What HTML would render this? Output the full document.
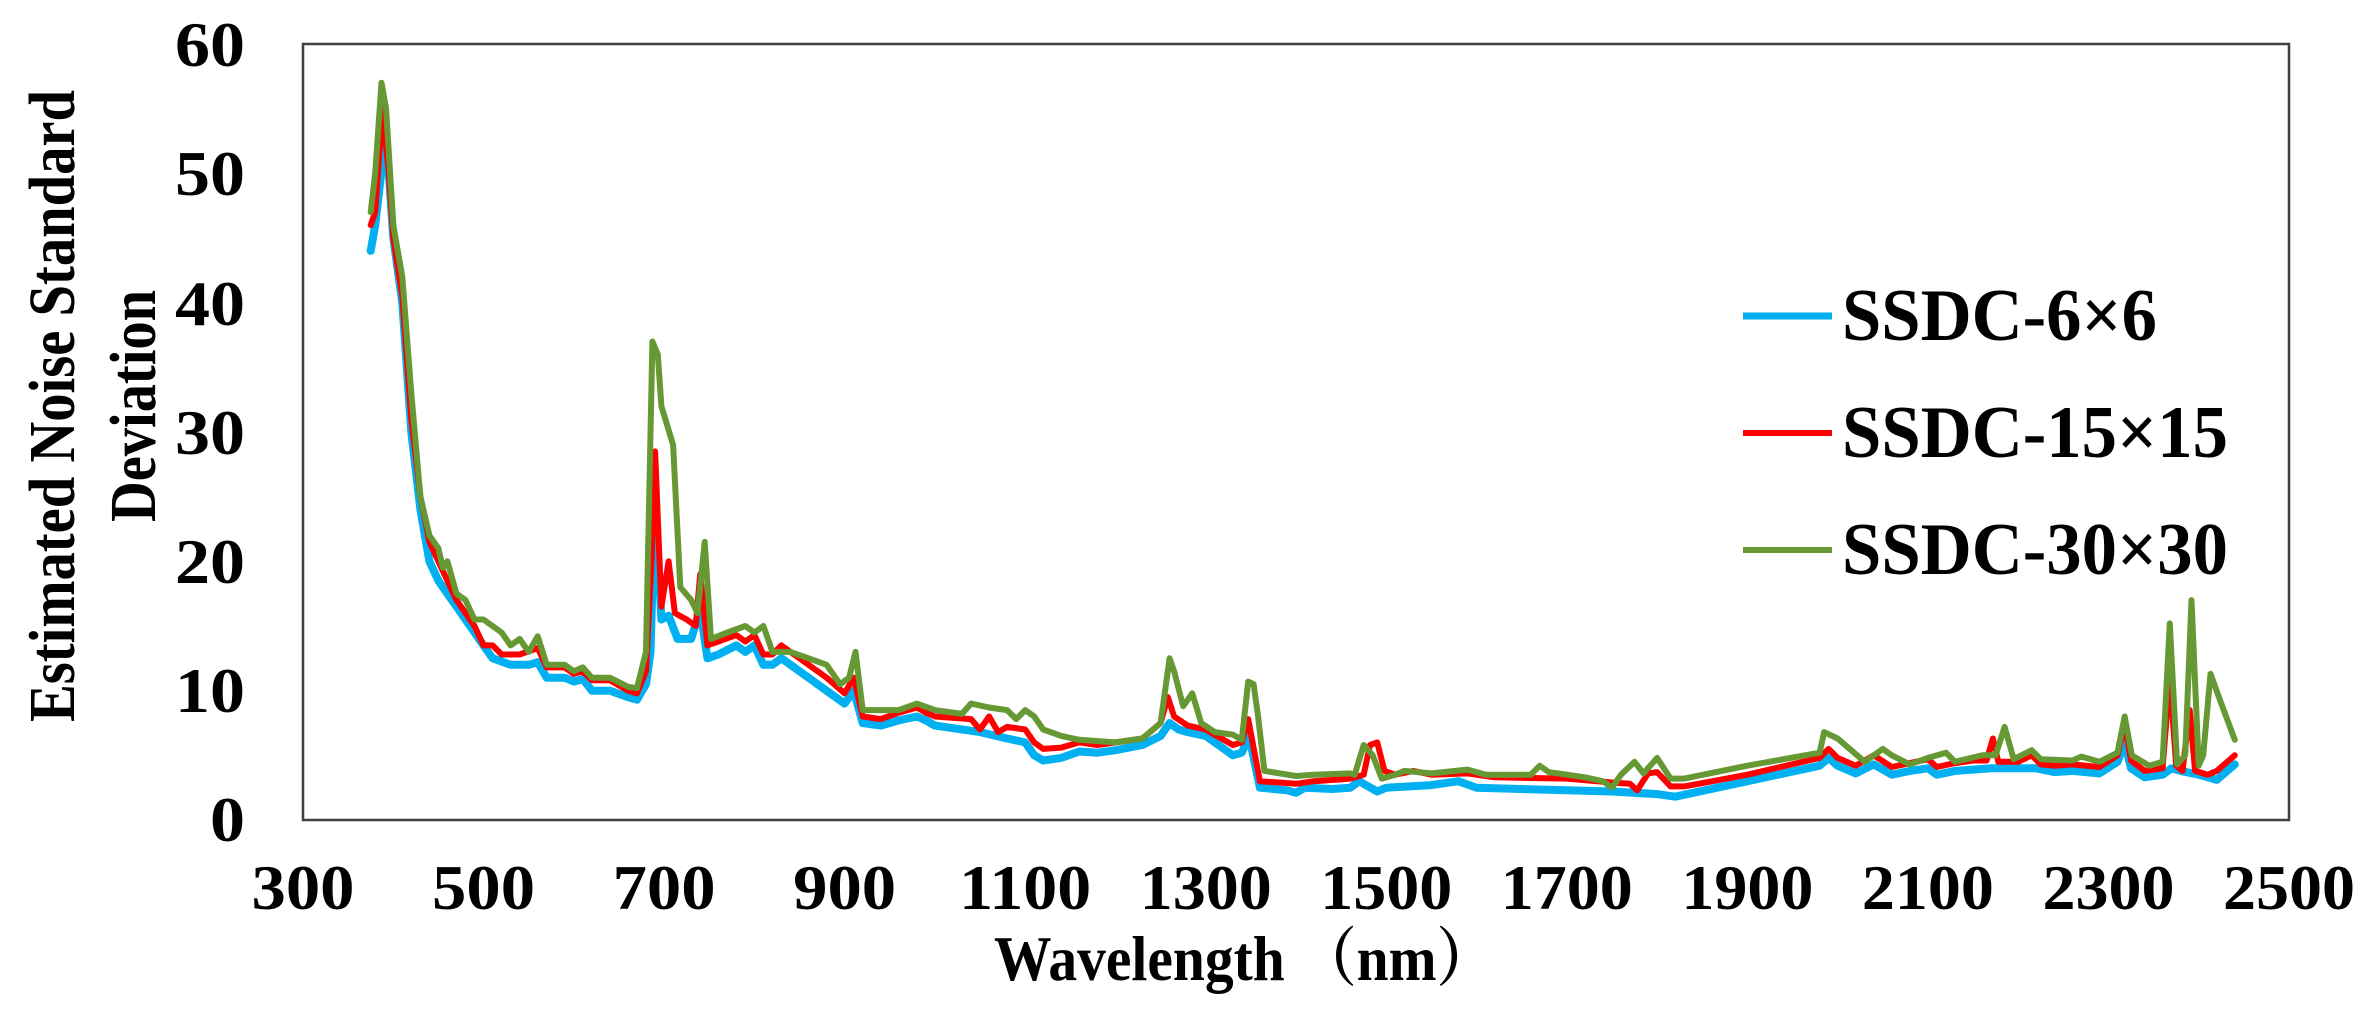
<!DOCTYPE html>
<html><head><meta charset="utf-8"><style>
html,body{margin:0;padding:0;background:#fff;}
svg{display:block;}
text{font-family:"Liberation Serif","Noto Serif CJK SC",serif;font-weight:bold;fill:#000;}
</style></head><body>
<svg id="s" width="2368" height="1011" viewBox="0 0 2368 1011" xmlns="http://www.w3.org/2000/svg">
<rect x="0" y="0" width="2368" height="1011" fill="#fff"/>
<rect x="303" y="44" width="1986" height="776" fill="none" stroke="#404040" stroke-width="2.5"/>
<g font-size="64" text-anchor="end">
<text x="245" y="66" textLength="70" lengthAdjust="spacingAndGlyphs">60</text>
<text x="245" y="195" textLength="70" lengthAdjust="spacingAndGlyphs">50</text>
<text x="245" y="325" textLength="70" lengthAdjust="spacingAndGlyphs">40</text>
<text x="245" y="454" textLength="70" lengthAdjust="spacingAndGlyphs">30</text>
<text x="245" y="583" textLength="70" lengthAdjust="spacingAndGlyphs">20</text>
<text x="245" y="712" textLength="70" lengthAdjust="spacingAndGlyphs">10</text>
<text x="245" y="841" textLength="35" lengthAdjust="spacingAndGlyphs">0</text>
</g>
<g font-size="64" text-anchor="middle" id="xl"></g>
<text x="994" y="980" font-size="64" textLength="500" lengthAdjust="spacingAndGlyphs">Wavelength （nm）</text>
<text transform="translate(74,406) rotate(-90)" font-size="66" text-anchor="middle" textLength="632" lengthAdjust="spacingAndGlyphs">Estimated Noise Standard</text>
<text transform="translate(155,406) rotate(-90)" font-size="66" text-anchor="middle" textLength="232" lengthAdjust="spacingAndGlyphs">Deviation</text>
<g id="series" fill="none" stroke-linejoin="round" stroke-linecap="round"></g>
<line x1="1743" y1="316" x2="1832" y2="316" stroke="#00B0F0" stroke-width="7"/>
<line x1="1743" y1="433" x2="1832" y2="433" stroke="#FF0000" stroke-width="6"/>
<line x1="1743" y1="550" x2="1832" y2="550" stroke="#669933" stroke-width="6"/>
<g font-size="74">
<text x="1842" y="340" textLength="315" lengthAdjust="spacingAndGlyphs">SSDC-6×6</text>
<text x="1842" y="457" textLength="386" lengthAdjust="spacingAndGlyphs">SSDC-15×15</text>
<text x="1842" y="574" textLength="386" lengthAdjust="spacingAndGlyphs">SSDC-30×30</text>
</g>
</svg>
<script>
var X=function(n){return 303+(n-300)*1986/2200;};
var Y=function(v){return 820-v*776/60;};
var xl=document.getElementById('xl');
for(var t=300;t<=2500;t+=200){var e=document.createElementNS('http://www.w3.org/2000/svg','text');e.setAttribute('x',X(t));e.setAttribute('y',909);e.setAttribute('textLength',t<1000?103:132);e.setAttribute('lengthAdjust','spacingAndGlyphs');e.textContent=t;xl.appendChild(e);}
var blue=[[375,44],[380,46],[390,52],[395,50],[400,45],[410,40],[420,30],[430,24],[440,20],[450,18.5],[460,17.5],[470,16.5],[480,15.5],[490,14.5],[500,13.5],[510,12.5],[530,12],[550,12],[560,12.2],[570,11],[590,11],[600,10.7],[610,10.9],[620,10],[640,10],[660,9.5],[670,9.3],[680,10.5],[685,13],[690,25],[697,15.5],[705,15.8],[715,14],[730,14],[740,16.3],[748,12.5],[760,12.8],[780,13.5],[790,13],[800,13.5],[810,12],[820,12],[830,12.5],[840,12],[850,11.5],[880,10],[900,9],[910,10],[920,7.5],[940,7.3],[960,7.7],[980,8],[990,7.7],[1000,7.3],[1050,6.8],[1080,6.3],[1100,6],[1110,5],[1120,4.6],[1140,4.8],[1160,5.3],[1180,5.2],[1200,5.4],[1230,5.8],[1250,6.5],[1260,7.5],[1270,7],[1280,6.8],[1300,6.5],[1330,5],[1340,5.2],[1348,6.5],[1360,2.5],[1390,2.3],[1400,2.1],[1410,2.5],[1440,2.4],[1460,2.5],[1470,3],[1480,2.6],[1490,2.2],[1500,2.5],[1550,2.7],[1580,3],[1600,2.5],[1700,2.3],[1750,2.2],[1800,2.0],[1820,1.8],[1900,3],[1980,4.2],[1990,4.8],[2000,4.2],[2020,3.6],[2040,4.3],[2060,3.5],[2080,3.8],[2100,4],[2110,3.5],[2130,3.8],[2150,3.9],[2170,4],[2190,4],[2200,4],[2220,4],[2240,3.7],[2260,3.8],[2290,3.6],[2310,4.5],[2318,6],[2325,4],[2340,3.3],[2360,3.5],[2370,4],[2380,3.8],[2400,3.5],[2410,3.3],[2420,3.1],[2440,4.3]];
var red=[[375,46],[380,47],[388,55],[395,50],[400,45],[410,40.5],[420,31],[430,25],[440,21.5],[450,20],[460,18.5],[470,17],[480,16],[490,15],[500,13.5],[510,13.5],[520,12.8],[540,12.8],[560,13.3],[570,11.8],[590,11.8],[600,11.3],[610,11.5],[620,10.8],[640,10.8],[660,10],[670,9.8],[680,11.5],[686,20],[690,28.5],[697,16.5],[705,20],[712,16],[725,15.5],[735,15],[740,19],[748,13.5],[760,13.8],[780,14.3],[790,13.8],[800,14.3],[810,12.8],[820,12.8],[830,13.5],[840,13],[850,12.5],[880,11],[900,9.8],[910,11],[920,8],[940,7.8],[960,8.3],[980,8.7],[990,8.3],[1000,8],[1040,7.8],[1050,7],[1060,8],[1070,6.8],[1080,7.2],[1100,7],[1110,6],[1120,5.5],[1140,5.6],[1160,6],[1180,5.8],[1200,6],[1230,6.3],[1250,7.5],[1258,9.5],[1265,8],[1280,7.3],[1300,7],[1330,5.8],[1340,6],[1347,7.8],[1360,3],[1400,2.8],[1420,3],[1460,3.2],[1475,3.5],[1482,5.8],[1490,6],[1498,3.8],[1510,3.5],[1530,3.8],[1550,3.5],[1590,3.6],[1620,3.3],[1700,3.2],[1750,2.9],[1770,2.8],[1778,2.3],[1790,3.6],[1800,3.7],[1815,2.6],[1830,2.6],[1900,3.5],[1980,4.8],[1990,5.5],[2000,4.8],[2020,4.2],[2040,5],[2060,4.1],[2080,4.4],[2100,4.7],[2110,4.1],[2130,4.4],[2150,4.6],[2165,4.6],[2172,6.3],[2178,4.5],[2200,4.5],[2215,5],[2225,4.3],[2240,4.2],[2260,4.3],[2290,4.1],[2310,5],[2318,7.5],[2325,4.6],[2340,3.8],[2360,4],[2368,11],[2375,4.2],[2382,3.8],[2390,8.5],[2396,3.8],[2410,3.5],[2420,3.8],[2440,5]];
var green=[[375,47],[380,50],[387,57],[392,55],[400,46],[410,42],[420,33],[430,25],[440,22],[450,21],[455,19.5],[460,20],[470,17.5],[480,17],[490,15.5],[500,15.5],[520,14.5],[530,13.5],[540,14],[550,13],[560,14.2],[570,12],[590,12],[600,11.5],[610,11.8],[620,11],[640,11],[660,10.3],[670,10.2],[680,13],[687,37],[693,36],[697,32],[710,29],[718,18],[730,17],[737,16],[745,21.5],[752,14],[770,14.5],[790,15],[800,14.5],[810,15],[820,13],[840,13],[860,12.5],[880,12],[895,10.5],[905,11],[912,13],[920,8.5],[960,8.5],[980,9],[1000,8.5],[1030,8.2],[1040,9],[1060,8.7],[1080,8.5],[1090,7.8],[1100,8.5],[1110,8],[1120,7],[1140,6.5],[1160,6.2],[1200,6],[1230,6.3],[1250,7.5],[1260,12.5],[1265,11.5],[1275,8.8],[1285,9.8],[1295,7.5],[1310,6.8],[1330,6.6],[1340,6.2],[1347,10.7],[1353,10.5],[1358,8],[1365,3.8],[1400,3.4],[1420,3.5],[1460,3.6],[1465,3.5],[1475,5.8],[1485,5],[1495,3.2],[1510,3.5],[1520,3.8],[1550,3.6],[1590,3.9],[1610,3.5],[1660,3.5],[1670,4.2],[1680,3.7],[1700,3.5],[1720,3.3],[1740,3],[1750,2.5],[1760,3.5],[1775,4.5],[1785,3.6],[1800,4.8],[1815,3.2],[1830,3.2],[1900,4.2],[1980,5.2],[1985,6.8],[2000,6.3],[2030,4.5],[2050,5.5],[2060,5],[2080,4.3],[2100,4.8],[2120,5.2],[2130,4.5],[2160,5],[2175,5],[2185,7.2],[2195,4.7],[2215,5.4],[2225,4.7],[2260,4.6],[2270,4.9],[2290,4.5],[2310,5.2],[2318,8],[2326,5],[2345,4.2],[2360,4.5],[2368,15.2],[2376,4.3],[2385,5],[2392,17],[2400,4.2],[2405,5],[2413,11.3],[2425,9],[2440,6.2]];
var g=document.getElementById('series');
[[blue,'#00B0F0',8],[red,'#FF0000',6],[green,'#669933',6]].forEach(function(s){
var d=s[0].map(function(p,i){return (i?'L':'M')+X(p[0]).toFixed(1)+' '+Y(p[1]).toFixed(1);}).join(' ');
var p=document.createElementNS('http://www.w3.org/2000/svg','path');p.setAttribute('d',d);p.setAttribute('stroke',s[1]);p.setAttribute('stroke-width',s[2]);g.appendChild(p);});
</script>
</body></html>
